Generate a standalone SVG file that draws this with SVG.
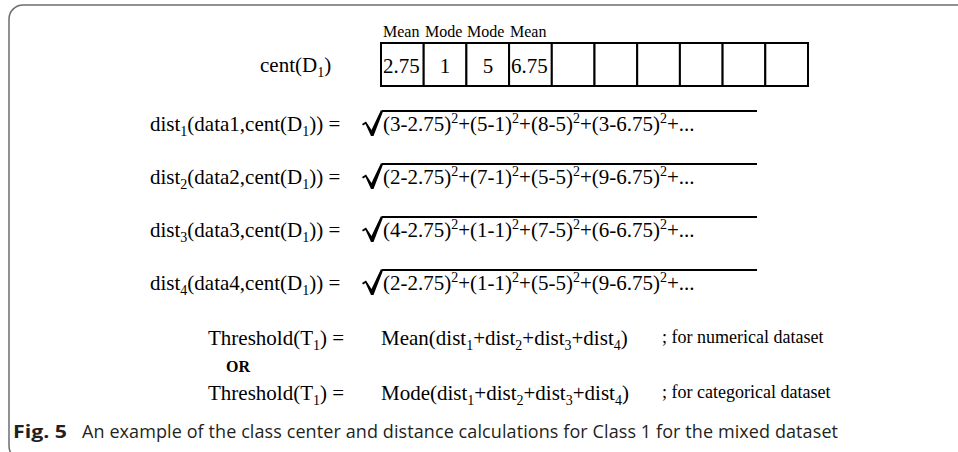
<svg xmlns="http://www.w3.org/2000/svg" width="958" height="452" viewBox="0 0 958 452">
<style>
.t{font-family:"Liberation Serif","Times New Roman",serif;font-size:21px;fill:#000}
.lab{font-family:"Liberation Serif","Times New Roman",serif;font-size:16px;fill:#000}
.sm{font-family:"Liberation Serif","Times New Roman",serif;font-size:18px;fill:#000}
.or{font-family:"Liberation Serif","Times New Roman",serif;font-size:16px;font-weight:bold;fill:#000}
.cap{font-family:"Open Sans","Noto Sans",sans-serif;font-size:18px;fill:#231f20}
.cell{fill:#fff;stroke:#000;stroke-width:2}
.ov{stroke:#000;stroke-width:2;fill:none}
.rad{fill:#000}
.frame{fill:none;stroke:#6d6d6d;stroke-width:1.5}
</style>
<defs>
<path id="radical" d="M362,13 L366,10.5 L371.5,19 L381,-1 L383,0.5 L373.5,25 L371,25 L365.5,13 L363,14.5 Z"/>
</defs>
<rect class="frame" x="9" y="5" width="1000" height="455" rx="14"/>

<g id="centroid">
<text class="lab" x="383" y="37">Mean</text>
<text class="lab" x="425" y="37">Mode</text>
<text class="lab" x="467" y="37">Mode</text>
<text class="lab" x="510" y="37">Mean</text>
<text class="t" x="260" y="72">cent(D<tspan font-size="14" dy="5">1</tspan><tspan dy="-5">)</tspan></text>
<g id="table">
<rect class="cell" x="381" y="43" width="42.7" height="43"/>
<rect class="cell" x="423.7" y="43" width="42.7" height="43"/>
<rect class="cell" x="466.4" y="43" width="42.7" height="43"/>
<rect class="cell" x="509.1" y="43" width="42.7" height="43"/>
<rect class="cell" x="551.8" y="43" width="42.7" height="43"/>
<rect class="cell" x="594.5" y="43" width="42.7" height="43"/>
<rect class="cell" x="637.2" y="43" width="42.7" height="43"/>
<rect class="cell" x="679.9" y="43" width="42.7" height="43"/>
<rect class="cell" x="722.6" y="43" width="42.7" height="43"/>
<rect class="cell" x="765.3" y="43" width="42.7" height="43"/>
<text class="t" x="383" y="73">2.75</text>
<text class="t" x="445" y="73" text-anchor="middle">1</text>
<text class="t" x="488" y="73" text-anchor="middle">5</text>
<text class="t" x="511" y="73">6.75</text>
</g>
</g>

<g id="dist1">
<text class="t" x="150" y="131">dist<tspan font-size="14" dy="5">1</tspan><tspan dy="-5">(data1,cent(D</tspan><tspan font-size="14" dy="5">1</tspan><tspan dy="-5">)) =</tspan></text>
<use href="#radical" class="rad" transform="translate(0,111)"/>
<line class="ov" x1="382" y1="111" x2="757" y2="111"/>
<text class="t" x="383" y="131">(3-2.75)<tspan font-size="14" dy="-8">2</tspan><tspan dy="8">+(5-1)</tspan><tspan font-size="14" dy="-8">2</tspan><tspan dy="8">+(8-5)</tspan><tspan font-size="14" dy="-8">2</tspan><tspan dy="8">+(3-6.75)</tspan><tspan font-size="14" dy="-8">2</tspan><tspan dy="8">+...</tspan></text>
</g>

<g id="dist2">
<text class="t" x="150" y="184">dist<tspan font-size="14" dy="5">2</tspan><tspan dy="-5">(data2,cent(D</tspan><tspan font-size="14" dy="5">1</tspan><tspan dy="-5">)) =</tspan></text>
<use href="#radical" class="rad" transform="translate(0,164)"/>
<line class="ov" x1="382" y1="164" x2="757" y2="164"/>
<text class="t" x="383" y="184">(2-2.75)<tspan font-size="14" dy="-8">2</tspan><tspan dy="8">+(7-1)</tspan><tspan font-size="14" dy="-8">2</tspan><tspan dy="8">+(5-5)</tspan><tspan font-size="14" dy="-8">2</tspan><tspan dy="8">+(9-6.75)</tspan><tspan font-size="14" dy="-8">2</tspan><tspan dy="8">+...</tspan></text>
</g>

<g id="dist3">
<text class="t" x="150" y="237">dist<tspan font-size="14" dy="5">3</tspan><tspan dy="-5">(data3,cent(D</tspan><tspan font-size="14" dy="5">1</tspan><tspan dy="-5">)) =</tspan></text>
<use href="#radical" class="rad" transform="translate(0,217)"/>
<line class="ov" x1="382" y1="217" x2="757" y2="217"/>
<text class="t" x="383" y="237">(4-2.75)<tspan font-size="14" dy="-8">2</tspan><tspan dy="8">+(1-1)</tspan><tspan font-size="14" dy="-8">2</tspan><tspan dy="8">+(7-5)</tspan><tspan font-size="14" dy="-8">2</tspan><tspan dy="8">+(6-6.75)</tspan><tspan font-size="14" dy="-8">2</tspan><tspan dy="8">+...</tspan></text>
</g>

<g id="dist4">
<text class="t" x="150" y="290">dist<tspan font-size="14" dy="5">4</tspan><tspan dy="-5">(data4,cent(D</tspan><tspan font-size="14" dy="5">1</tspan><tspan dy="-5">)) =</tspan></text>
<use href="#radical" class="rad" transform="translate(0,270)"/>
<line class="ov" x1="382" y1="270" x2="757" y2="270"/>
<text class="t" x="383" y="290">(2-2.75)<tspan font-size="14" dy="-8">2</tspan><tspan dy="8">+(1-1)</tspan><tspan font-size="14" dy="-8">2</tspan><tspan dy="8">+(5-5)</tspan><tspan font-size="14" dy="-8">2</tspan><tspan dy="8">+(9-6.75)</tspan><tspan font-size="14" dy="-8">2</tspan><tspan dy="8">+...</tspan></text>
</g>

<g id="threshold-mean">
<text class="t" x="208" y="345">Threshold(T<tspan font-size="14" dy="5">1</tspan><tspan dy="-5">) =</tspan></text>
<text class="t" x="381" y="345">Mean(dist<tspan font-size="14" dy="5">1</tspan><tspan dy="-5">+dist</tspan><tspan font-size="14" dy="5">2</tspan><tspan dy="-5">+dist</tspan><tspan font-size="14" dy="5">3</tspan><tspan dy="-5">+dist</tspan><tspan font-size="14" dy="5">4</tspan><tspan dy="-5">)</tspan></text>
<text class="sm" x="662" y="343">; for numerical dataset</text>
</g>

<g id="or">
<text class="or" x="226" y="372">OR</text>
</g>

<g id="threshold-mode">
<text class="t" x="208" y="400">Threshold(T<tspan font-size="14" dy="5">1</tspan><tspan dy="-5">) =</tspan></text>
<text class="t" x="381" y="400">Mode(dist<tspan font-size="14" dy="5">1</tspan><tspan dy="-5">+dist</tspan><tspan font-size="14" dy="5">2</tspan><tspan dy="-5">+dist</tspan><tspan font-size="14" dy="5">3</tspan><tspan dy="-5">+dist</tspan><tspan font-size="14" dy="5">4</tspan><tspan dy="-5">)</tspan></text>
<text class="sm" x="662" y="398">; for categorical dataset</text>
</g>

<g id="caption">
<text class="cap" x="13" y="438" font-weight="bold" textLength="54" lengthAdjust="spacingAndGlyphs">Fig. 5</text>
<text class="cap" x="82" y="438" textLength="756" lengthAdjust="spacing">An example of the class center and distance calculations for Class 1 for the mixed dataset</text>
</g>
</svg>
